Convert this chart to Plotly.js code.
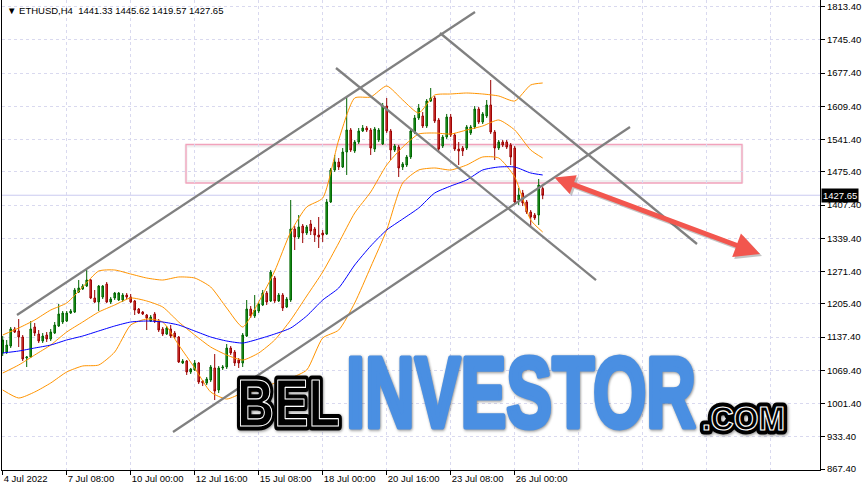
<!DOCTYPE html>
<html><head><meta charset="utf-8">
<script src="https://cdn.plot.ly/plotly-3.0.1.min.js"></script>
<style>html,body{margin:0;padding:0;background:#fff;}#chart{width:866px;height:492px;}</style>
</head><body><div id="chart"></div>
<script>
// ---- data ----
const firstBar = Date.UTC(2022, 6, 4, 16, 0);
const barCount = 136;
function fmt(ms){const d=new Date(ms);const p=n=>String(n).padStart(2,'0');return d.getUTCFullYear()+'-'+p(d.getUTCMonth()+1)+'-'+p(d.getUTCDate())+' '+p(d.getUTCHours())+':'+p(d.getUTCMinutes());}
const times = [];
for (let i = 0; i < barCount; i++) times.push(fmt(firstBar + i * 4 * 3600e3));

const open = [
1104.9,1106.9,1119.2,1154.0,1149.9,1137.6,1094.6,1096.7,1158.1,1143.7,
1129.4,1141.7,1133.5,1145.8,1160.1,1168.3,1170.3,1186.7,1188.7,1229.7,
1235.8,1241.9,1254.2,1217.4,1209.2,1219.4,1246.0,1209.2,1217.4,1213.3,
1213.3,1223.5,1219.4,1211.3,1194.9,1188.7,1182.6,1170.3,1184.7,1170.3,
1154.0,1143.7,1154.0,1145.8,1137.6,1084.4,1088.5,1066.0,1070.1,1084.4,
1047.6,1043.5,1049.6,1074.2,1029.2,1074.2,1076.2,1115.1,1106.9,1090.5,
1084.4,1139.6,1194.9,1180.6,1190.8,1203.1,1227.6,1211.3,1258.3,1211.3,
1223.5,1199.0,1213.3,1358.6,1342.2,1364.7,1350.4,1368.8,1358.6,1346.3,
1350.4,1348.3,1413.8,1479.3,1495.6,1485.4,1516.1,1561.1,1518.2,1536.6,
1559.1,1565.2,1561.1,1522.2,1540.7,1532.5,1610.2,1559.1,1520.2,1526.3,
1485.4,1489.5,1505.9,1557.0,1585.7,1589.8,1569.3,1620.4,1626.6,1581.6,
1528.4,1546.8,1587.7,1550.9,1522.2,1524.3,1524.3,1555.0,1567.3,1604.1,
1577.5,1589.8,1612.3,1557.0,1524.3,1536.6,1536.6,1530.4,1524.3,1417.9,
1432.2,1413.8,1393.3,1387.2,1387.2,1441.33];
const high = [
1139.6,1131.5,1158.1,1158.1,1174.4,1141.7,1098.7,1170.3,1166.2,1151.9,
1145.8,1147.8,1154.0,1168.3,1205.1,1190.8,1190.8,1194.9,1237.9,1254.2,
1246.0,1274.7,1256.3,1233.8,1244.0,1244.0,1250.1,1219.4,1229.7,1229.7,
1227.6,1227.6,1225.6,1213.3,1196.9,1190.8,1184.7,1182.6,1188.7,1174.4,
1158.1,1160.1,1162.1,1149.9,1139.6,1092.6,1090.5,1074.2,1090.5,1086.5,
1049.6,1055.8,1080.3,1102.8,1078.3,1080.3,1123.3,1119.2,1111.0,1094.6,
1145.8,1213.3,1201.0,1223.5,1209.2,1233.8,1231.7,1274.7,1262.4,1227.6,
1227.6,1219.4,1417.9,1364.7,1387.2,1368.8,1366.7,1377.0,1362.7,1383.1,
1356.5,1419.9,1483.4,1510.0,1503.8,1524.3,1630.7,1565.2,1540.7,1565.2,
1571.3,1569.3,1565.2,1567.3,1565.2,1616.4,1626.6,1563.2,1532.5,1530.4,
1495.6,1510.0,1565.2,1591.8,1614.3,1597.9,1624.5,1647.0,1630.7,1585.7,
1550.9,1593.9,1593.9,1555.0,1536.6,1528.4,1571.3,1571.3,1610.2,1608.2,
1597.9,1622.5,1663.4,1561.1,1540.7,1540.7,1540.7,1534.5,1528.4,1442.5,
1438.4,1417.9,1397.4,1391.3,1460.9,1445.62];
const low = [
1098.7,1102.8,1115.1,1145.8,1117.1,1088.5,1076.2,1094.6,1139.6,1125.3,
1125.3,1127.4,1129.4,1143.7,1158.1,1164.2,1168.3,1184.7,1186.7,1227.6,
1233.8,1239.9,1215.3,1207.2,1190.8,1215.3,1207.2,1205.1,1213.3,1211.3,
1209.2,1215.3,1207.2,1182.6,1184.7,1182.6,1151.9,1168.3,1166.2,1147.8,
1139.6,1141.7,1135.5,1133.5,1084.4,1082.4,1059.9,1061.9,1068.0,1041.4,
1037.3,1039.4,1045.5,1008.7,1023.0,1070.1,1072.1,1100.8,1078.3,1074.2,
1076.2,1137.6,1176.5,1176.5,1186.7,1201.0,1203.1,1209.2,1207.2,1209.2,
1190.8,1196.9,1209.2,1315.6,1338.1,1329.9,1346.3,1346.3,1332.0,1319.7,
1332.0,1346.3,1411.8,1475.2,1479.3,1483.4,1469.1,1516.1,1514.1,1532.5,
1557.0,1557.0,1510.0,1516.1,1536.6,1530.4,1555.0,1499.7,1516.1,1465.0,
1479.3,1485.4,1501.8,1552.9,1581.6,1565.2,1565.2,1618.4,1575.4,1516.1,
1524.3,1542.7,1546.8,1518.2,1489.5,1507.9,1520.2,1550.9,1563.2,1573.4,
1573.4,1585.7,1552.9,1499.7,1520.2,1526.3,1522.2,1489.5,1409.7,1407.7,
1405.6,1389.3,1364.7,1377.0,1366.7,1419.57];
const close = [
1131.5,1121.2,1154.0,1147.8,1137.6,1092.6,1096.7,1154.0,1145.8,1129.4,
1139.6,1133.5,1147.8,1162.1,1184.7,1186.7,1186.7,1190.8,1233.8,1237.9,
1241.9,1254.2,1217.4,1209.2,1241.9,1241.9,1209.2,1215.3,1227.6,1227.6,
1223.5,1219.4,1209.2,1192.8,1186.7,1184.7,1176.5,1178.5,1170.3,1151.9,
1143.7,1156.0,1139.6,1137.6,1086.5,1088.5,1066.0,1072.1,1084.4,1045.5,
1043.5,1051.7,1076.2,1027.1,1074.2,1076.2,1115.1,1104.9,1084.4,1084.4,
1141.7,1194.9,1180.6,1192.8,1205.1,1227.6,1209.2,1270.6,1211.3,1223.5,
1196.9,1215.3,1358.6,1342.2,1362.7,1350.4,1362.7,1354.5,1346.3,1342.2,
1346.3,1413.8,1479.3,1495.6,1485.4,1516.1,1561.1,1520.2,1536.6,1559.1,
1565.2,1561.1,1524.3,1563.2,1561.1,1610.2,1559.1,1520.2,1528.4,1483.4,
1491.6,1505.9,1559.1,1585.7,1606.1,1569.3,1620.4,1626.6,1579.5,1522.2,
1546.8,1587.7,1550.9,1522.2,1518.2,1518.2,1567.3,1567.3,1604.1,1577.5,
1593.9,1612.3,1557.0,1524.3,1536.6,1530.4,1526.3,1505.9,1413.8,1428.1,
1411.8,1393.3,1383.1,1381.1,1448.6,1427.65];

// indicator readings, sampled at these bar indices
const indIdx = [0,4,8,12,16,20,24,28,32,36,40,44,48,52,56,60,64,68,72,76,80,84,88,92,96,100,104,108,112,116,120,124,128,132,135];
const bbUpper = [1141.7,1156.0,1172.4,1192.8,1207.2,1239.9,1272.6,1274.7,1266.5,1258.3,1254.2,1260.4,1258.3,1239.9,1196.9,1158.1,1209.2,1272.6,1352.4,1403.6,1422.0,1540.7,1626.6,1628.6,1651.2,1622.5,1595.9,1632.7,1634.8,1636.8,1634.8,1630.7,1620.4,1653.2,1657.3];
const bbMiddle = [1063.9,1080.3,1100.8,1121.2,1147.8,1168.3,1188.7,1203.1,1217.4,1211.3,1199.0,1168.3,1141.7,1117.1,1100.8,1090.5,1104.9,1131.5,1172.4,1221.5,1270.6,1329.9,1391.3,1434.3,1489.5,1526.3,1552.9,1555.0,1552.9,1561.1,1569.3,1581.6,1561.1,1520.2,1503.8];
const bbLower = [1029.2,1012.8,1025.1,1043.5,1066.0,1078.3,1080.3,1106.9,1162.1,1174.4,1168.3,1121.2,1074.2,1025.1,1010.7,1023.0,1029.2,1043.5,1053.7,1070.1,1135.5,1151.9,1207.2,1280.8,1356.5,1452.7,1479.3,1483.4,1479.3,1489.5,1505.9,1503.8,1465.0,1377.0,1352.4];
const maLine = [1104.9,1108.9,1115.1,1121.2,1131.5,1139.6,1149.9,1160.1,1168.3,1170.3,1168.3,1162.1,1149.9,1137.6,1129.4,1125.3,1133.5,1143.7,1156.0,1180.6,1213.3,1237.9,1284.9,1323.8,1356.5,1379.0,1401.5,1432.2,1446.5,1458.8,1479.3,1485.4,1485.4,1473.2,1469.1];

const xTickVals = ['2022-07-04 16:00','2022-07-07 08:00','2022-07-10 00:00','2022-07-12 16:00','2022-07-15 08:00','2022-07-18 00:00','2022-07-20 16:00','2022-07-23 08:00','2022-07-26 00:00'];
const xTickText = ['4 Jul 2022','7 Jul 08:00','10 Jul 00:00','12 Jul 16:00','15 Jul 08:00','18 Jul 00:00','20 Jul 16:00','23 Jul 08:00','26 Jul 00:00'];
const xFutureGrid = ['2022-07-28 16:00','2022-07-31 08:00','2022-08-03 00:00','2022-08-05 16:00'];
const yTickVals = [1813.4,1745.4,1677.4,1609.4,1541.4,1475.4,1407.4,1339.4,1271.4,1205.4,1137.4,1069.4,1001.4,933.4,867.4];
const yTickText = yTickVals.map(v => v.toFixed(2));

// drawn objects (time, price anchors)
const channelLines = [
  {t0:'2022-07-05 06:18', p0:1182.6, t1:'2022-07-24 08:18', p1:1802.5},
  {t0:'2022-07-11 18:18', p0:943.2,  t1:'2022-07-30 19:18', p1:1567.3},
  {t0:'2022-07-22 21:18', p0:1759.6, t1:'2022-08-02 14:18', p1:1327.9},
  {t0:'2022-07-18 13:18', p0:1688.0, t1:'2022-07-29 09:18', p1:1254.2}
];
const zoneBox = {t0:'2022-07-12 07:18', t1:'2022-08-04 11:18', p0:1452.7, p1:1531.5};
const arrowFrom = {t:'2022-07-27 14:18', p:1465.0};
const arrowTo = {t:'2022-08-05 05:18', p:1307.4};
const lastPrice = 1427.65;
const header = '\u25BC ETHUSD,H4  1441.33 1445.62 1419.57 1427.65';

// ---- traces ----
const indX = indIdx.map(i => times[i]);
const lineStyle = (c) => ({color:c, width:1, shape:'spline', smoothing:0.6});
const data = [
  {type:'candlestick', x:times, open:open, high:high, low:low, close:close,
   increasing:{line:{color:'#006400', width:1}, fillcolor:'#22a322'},
   decreasing:{line:{color:'#9a0000', width:1}, fillcolor:'#e6423d'},
   whiskerwidth:0, hoverinfo:'skip'},
  {type:'scatter', mode:'lines', x:indX, y:bbUpper, line:lineStyle('#ff9400'), hoverinfo:'skip'},
  {type:'scatter', mode:'lines', x:indX, y:bbMiddle, line:lineStyle('#ff9400'), hoverinfo:'skip'},
  {type:'scatter', mode:'lines', x:indX, y:bbLower, line:lineStyle('#ff9400'), hoverinfo:'skip'},
  {type:'scatter', mode:'lines', x:indX, y:maLine, line:lineStyle('#0000ff'), hoverinfo:'skip'}
];

const shapes = [
  {type:'rect', xref:'x', yref:'y', x0:zoneBox.t0, x1:zoneBox.t1, y0:zoneBox.p0 + 3, y1:zoneBox.p1 - 3,
   line:{color:'rgba(0,0,0,0.06)', width:3}, fillcolor:'rgba(0,0,0,0)', layer:'below'},
  {type:'rect', xref:'x', yref:'y', x0:zoneBox.t0, x1:zoneBox.t1, y0:zoneBox.p0, y1:zoneBox.p1,
   line:{color:'#f2a2bc', width:1.3}, fillcolor:'rgba(0,0,0,0)', layer:'below'},
  {type:'line', xref:'paper', yref:'y', x0:0, x1:1, y0:lastPrice, y1:lastPrice,
   line:{color:'#cacaf0', width:1}, layer:'below'}
].concat(channelLines.map(l => ({type:'line', xref:'x', yref:'y', x0:l.t0, y0:l.p0, x1:l.t1, y1:l.p1,
   line:{color:'#808080', width:2.3}, layer:'above'})));

const tickFont = {family:'Liberation Sans, Arial, sans-serif', size:9.5, color:'#000'};
const annotations = [
  {xref:'paper', yref:'paper', x:0.004, y:1, xanchor:'left', yanchor:'top', yshift:-3, showarrow:false,
   text:header, font:tickFont},
  {xref:'paper', yref:'y', x:1, y:lastPrice, xanchor:'left', yanchor:'middle', xshift:1, showarrow:false,
   text:lastPrice.toFixed(2), font:{family:tickFont.family, size:9.5, color:'#fff'}, bgcolor:'#000', borderpad:1},
  {xref:'x', yref:'y', axref:'x', ayref:'y', x:arrowTo.t, y:arrowTo.p, ax:arrowFrom.t, ay:arrowFrom.p,
   text:'', showarrow:true, arrowhead:2, startarrowhead:2, arrowside:'end+start', arrowsize:1, startarrowsize:0.8,
   arrowwidth:5, arrowcolor:'rgba(90,90,90,0.35)', xshift:2, yshift:-2},
  {xref:'x', yref:'y', axref:'x', ayref:'y', x:arrowTo.t, y:arrowTo.p, ax:arrowFrom.t, ay:arrowFrom.p,
   text:'', showarrow:true, arrowhead:2, startarrowhead:2, arrowside:'end+start', arrowsize:1, startarrowsize:0.8,
   arrowwidth:5, arrowcolor:'#f2564e'}
];
// watermark
const wmFont = 'Liberation Sans Narrow, Liberation Sans, Arial, sans-serif';
const wm = [
  {text:'BEL', px:236, py:403, size:66, width:103, color:'#000', outline:true},
  {text:'INVESTOR', px:345, py:392, size:100, width:350, color:'#4a8fe2', outline:false},
  {text:'.COM', px:701, py:418, size:33, width:83, color:'#000', outline:true}
];
const wmIndex = [];
wm.forEach(w => {
  const base = {xref:'paper', yref:'paper', x:(w.px-2)/818, y:1-w.py/470, xanchor:'left', yanchor:'middle',
    showarrow:false, text:w.text, borderpad:0};
  if (w.outline) {
    wmIndex.push({i:annotations.length, w:w, mode:'under'});
    annotations.push(Object.assign({}, base, {font:{family:wmFont, size:w.size, color:'#000', weight:700}}));
    wmIndex.push({i:annotations.length, w:w, mode:'over'});
    annotations.push(Object.assign({}, base, {font:{family:wmFont, size:w.size, color:'#000', weight:700}}));
  } else {
    wmIndex.push({i:annotations.length, w:w, mode:'plain'});
    annotations.push(Object.assign({}, base, {font:{family:wmFont, size:w.size, color:w.color, weight:700}}));
  }
});

const gridColor = '#d9d9ef';
const layout = {
  width:866, height:492,
  margin:{l:2, r:46, t:0, b:22, pad:0},
  paper_bgcolor:'#fff', plot_bgcolor:'#fff',
  showlegend:false, boxgap:0.45,
  xaxis:{type:'date', range:['2022-07-04 15:18','2022-08-07 17:18'], tickmode:'array', tickvals:xTickVals, ticktext:xTickText,
    ticks:'outside', ticklen:4, tickcolor:'#000', ticklabelposition:'outside right', tickfont:tickFont,
    showline:true, linecolor:'#000', linewidth:1, showgrid:true, gridcolor:gridColor, griddash:'3px,3px', gridwidth:1,
    zeroline:false, rangeslider:{visible:false}, fixedrange:true,
    minor:{tickmode:'array', tickvals:xFutureGrid, showgrid:true, gridcolor:gridColor, griddash:'3px,3px', gridwidth:1, ticks:''}},
  yaxis:{side:'right', range:[865.5,1827.1], tickmode:'array', tickvals:yTickVals, ticktext:yTickText,
    ticks:'outside', ticklen:4, tickcolor:'#000', tickfont:tickFont,
    showline:true, linecolor:'#000', linewidth:1, mirror:true, showgrid:true, gridcolor:gridColor, griddash:'3px,3px',
    gridwidth:1, zeroline:false, fixedrange:true},
  shapes:shapes, annotations:annotations
};

Plotly.newPlot('chart', data, layout, {staticPlot:true, displayModeBar:false}).then(gd => {
  const groups = gd.querySelectorAll('g.annotation');
  wmIndex.forEach(spec => {
    let g = null;
    groups.forEach(el => { if (+el.getAttribute('data-index') === spec.i) g = el; });
    if (!g) return;
    const t = g.querySelector('text.annotation-text');
    if (!t) return;
    t.style.strokeLinejoin = 'round';
    t.style.strokeLinecap = 'round';
    if (spec.mode === 'under') {
      t.style.stroke = '#000'; t.style.strokeWidth = '9px';
      t.style.filter = 'drop-shadow(1px 1px 1.5px rgba(0,0,0,0.45))';
    } else if (spec.mode === 'over') {
      t.style.stroke = '#fff'; t.style.strokeWidth = '1.2px';
    } else {
      t.style.stroke = spec.w.color; t.style.strokeWidth = '5px';
      t.style.filter = 'drop-shadow(1px 1px 1.5px rgba(0,0,0,0.45))';
    }
    const bb = t.getBBox();
    const sx = spec.w.width / bb.width;
    t.setAttribute('transform', 'translate(' + bb.x + ',0) scale(' + sx + ',1) translate(' + (-bb.x) + ',0)');
  });
});
</script>
</body></html>
